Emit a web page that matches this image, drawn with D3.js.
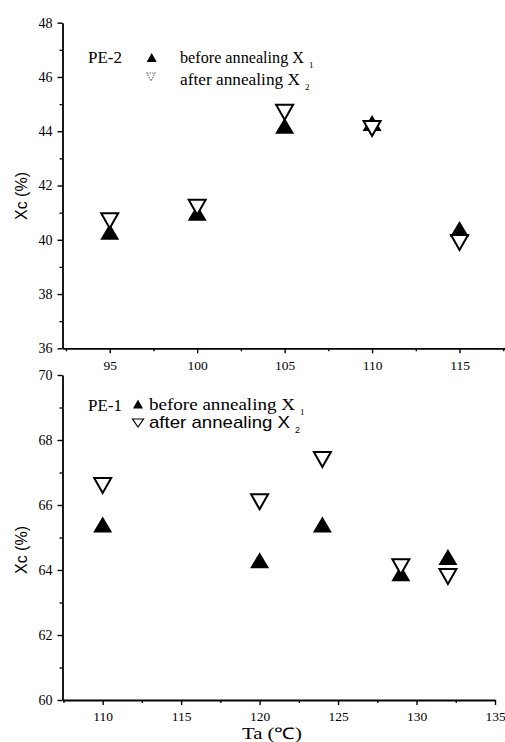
<!DOCTYPE html>
<html>
<head>
<meta charset="utf-8">
<script src="https://cdn.jsdelivr.net/npm/d3@7/dist/d3.min.js"></script>
<style>
  html, body { margin: 0; padding: 0; background: #fff; }
  svg { display: block; }
</style>
</head>
<body>
<script>
// Crystallinity Xc (%) before / after annealing versus annealing temperature Ta
const pe2Temps  = [95, 100, 105, 110, 115];
const pe2Before = [40.3, 41.0, 44.2, 44.3, 40.4];
const pe2After  = [40.7, 41.2, 44.7, 44.1, 39.9];

const pe1Temps  = [110, 120, 124, 129, 132];
const pe1Before = [65.4, 64.3, 65.4, 63.9, 64.4];
const pe1After  = [66.6, 66.1, 67.4, 64.1, 63.8];

const pe2XTicks = [95, 100, 105, 110, 115];
const pe2YTicks = [36, 38, 40, 42, 44, 46, 48];
const pe1XTicks = [110, 115, 120, 125, 130, 135];
const pe1YTicks = [60, 62, 64, 66, 68, 70];

const W = 505, H = 742;
const serif = "'Liberation Serif', 'Times New Roman', serif";
const sans = "'Liberation Sans', Arial, sans-serif";

const svg = d3.select("body").append("svg")
  .attr("width", W).attr("height", H)
  .attr("viewBox", `0 0 ${W} ${H}`);
svg.append("rect").attr("width", W).attr("height", H).attr("fill", "#fff");

function tri(w, h, up) {
  return up
    ? `M0,${-h / 2}L${w / 2},${h / 2}L${-w / 2},${h / 2}Z`
    : `M${-w / 2},${-h / 2}L${w / 2},${-h / 2}L0,${h / 2}Z`;
}

function panel(cfg) {
  const x = d3.scaleLinear().domain(cfg.xDomain).range(cfg.xRange);
  const y = d3.scaleLinear().domain(cfg.yDomain).range(cfg.yRange);
  const g = svg.append("g");

  // minor ticks
  const xMinor = [];
  for (let v = cfg.xTicks[0] - 2.5; v <= cfg.xDomain[1] + 1e-9; v += 5) xMinor.push(v);
  const yMinor = [];
  for (let v = cfg.yDomain[0] + 1; v < cfg.yDomain[1]; v += 2) yMinor.push(v);

  g.append("g").attr("transform", `translate(0,${cfg.yRange[0]})`)
    .call(d3.axisBottom(x).tickValues(xMinor.filter(v => v >= cfg.xDomain[0])).tickSize(3).tickFormat(""))
    .call(s => s.select(".domain").remove())
    .selectAll("line").attr("stroke-width", 1.3);
  g.append("g").attr("transform", `translate(${cfg.xRange[0]},0)`)
    .call(d3.axisLeft(y).tickValues(yMinor).tickSize(3).tickFormat(""))
    .call(s => s.select(".domain").remove())
    .selectAll("line").attr("stroke-width", 1.3);

  // major axes
  const xa = g.append("g").attr("transform", `translate(0,${cfg.yRange[0]})`)
    .call(d3.axisBottom(x).tickValues(cfg.xTicks).tickSize(5).tickSizeOuter(0));
  xa.select(".domain").attr("stroke-width", 1.8);
  xa.selectAll("line").attr("stroke-width", 1.4);
  xa.selectAll("text").attr("dy", null).attr("y", cfg.xLabelOffset)
    .attr("font-family", serif).attr("font-size", 13.5).attr("fill", "#000");

  const ya = g.append("g").attr("transform", `translate(${cfg.xRange[0]},0)`)
    .call(d3.axisLeft(y).tickValues(cfg.yTicks).tickSize(5).tickPadding(5).tickSizeOuter(0));
  ya.select(".domain").attr("stroke-width", 1.8);
  ya.selectAll("line").attr("stroke-width", 1.4);
  ya.selectAll("text").attr("font-family", serif).attr("font-size", 14).attr("fill", "#000");

  // y title
  g.append("text")
    .attr("transform", `translate(27,${cfg.yTitleY}) rotate(-90)`)
    .attr("text-anchor", "middle")
    .attr("font-family", sans).attr("font-size", 16)
    .text("Xc (%)");

  // markers: filled up-triangles first, open down-triangles over them
  g.selectAll(".before").data(cfg.temps).join("path")
    .attr("class", "before")
    .attr("transform", (d, i) => `translate(${x(d)},${y(cfg.before[i])})`)
    .attr("d", tri(19, 16, true))
    .attr("fill", "#000");
  g.selectAll(".after").data(cfg.temps).join("path")
    .attr("class", "after")
    .attr("transform", (d, i) => `translate(${x(d)},${y(cfg.after[i])})`)
    .attr("d", tri(17, 15, false))
    .attr("fill", "#fff").attr("stroke", "#000").attr("stroke-width", 2)
    .attr("stroke-linejoin", "miter");

  // legend
  const L = cfg.legend;
  g.append("text").attr("x", 88).attr("y", L.nameY)
    .attr("font-family", serif).attr("font-size", 17)
    .attr("textLength", 34).attr("lengthAdjust", "spacingAndGlyphs")
    .text(cfg.name);
  g.append("path").attr("transform", `translate(${L.m1[0]},${L.m1[1]})`)
    .attr("d", tri(10, 9, true)).attr("fill", "#000");
  g.append("path").attr("transform", `translate(${L.m2[0]},${L.m2[1]})`)
    .attr("d", tri(L.m2w, 8, false))
    .attr("fill", "none").attr("stroke", L.m2Color).attr("stroke-width", 1.2)
    .attr("stroke-dasharray", L.m2Dash);

  L.rows.forEach(r => {
    g.append("text").attr("x", r.x).attr("y", r.y)
      .attr("font-family", r.font).attr("font-size", r.size)
      .attr("textLength", r.len).attr("lengthAdjust", "spacingAndGlyphs")
      .text(r.label);
    g.append("text").attr("x", r.x + r.len + 5).attr("y", r.y + 5)
      .attr("font-family", r.font).attr("font-size", 9)
      .text(r.sub);
  });
}

panel({
  name: "PE-2",
  temps: pe2Temps, before: pe2Before, after: pe2After,
  xDomain: [92.3, 117.6], xRange: [62.5, 505],
  yDomain: [36, 48], yRange: [348.3, 22.7],
  xTicks: pe2XTicks, yTicks: pe2YTicks,
  xLabelOffset: 21.5, yTitleY: 196,
  legend: {
    nameY: 63.3,
    m1: [151.7, 57.5], m2: [151, 77], m2w: 8, m2Color: "#777", m2Dash: "1.5,1",
    rows: [
      { x: 180, y: 63.3, len: 124, font: serif, size: 17, label: "before annealing X", sub: "1" },
      { x: 180, y: 85, len: 120, font: serif, size: 17, label: "after annealing X", sub: "2" }
    ]
  }
});

panel({
  name: "PE-1",
  temps: pe1Temps, before: pe1Before, after: pe1After,
  xDomain: [107.44, 135], xRange: [62.5, 495],
  yDomain: [60, 70], yRange: [700, 375],
  xTicks: pe1XTicks, yTicks: pe1YTicks,
  xLabelOffset: 20.5, yTitleY: 550,
  legend: {
    nameY: 411,
    m1: [138, 404], m2: [138, 423], m2w: 11, m2Color: "#000", m2Dash: null,
    rows: [
      { x: 149, y: 410, len: 146, font: serif, size: 17, label: "before annealing X", sub: "1" },
      { x: 149, y: 428, len: 141, font: sans, size: 17, label: "after annealing X", sub: "2" }
    ]
  }
});

// x title
svg.append("text").attr("x", 242).attr("y", 738.5)
  .attr("font-family", serif).attr("font-size", 16)
  .attr("textLength", 60).attr("lengthAdjust", "spacingAndGlyphs")
  .text("Ta (℃)");
</script>
</body>
</html>
